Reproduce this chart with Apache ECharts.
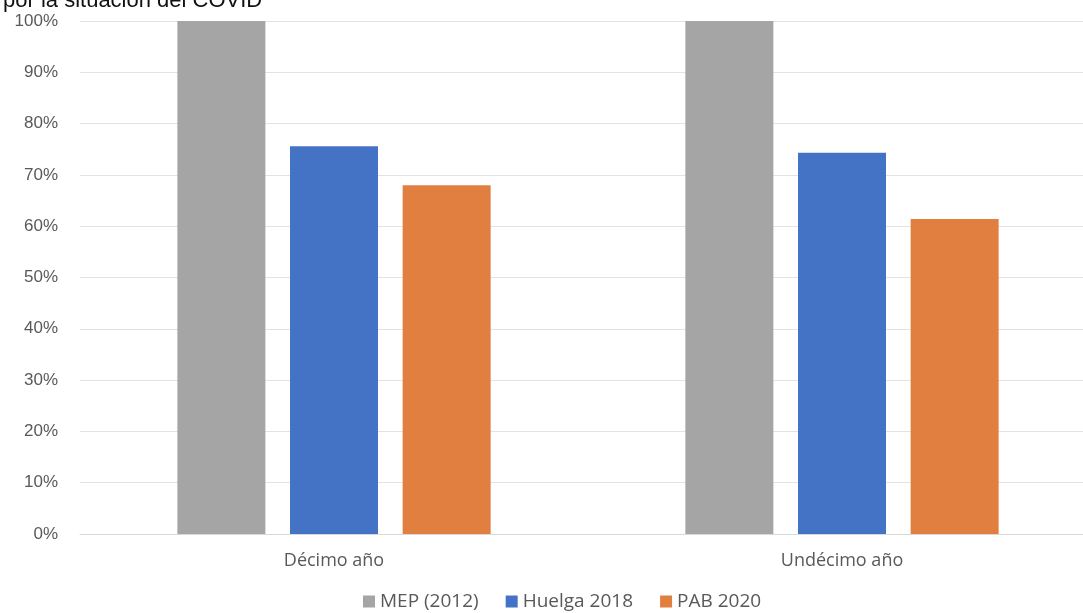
<!DOCTYPE html>
<html><head><meta charset="utf-8">
<script src="https://cdn.jsdelivr.net/npm/echarts@6/dist/echarts.min.js"></script>
<style>html,body{margin:0;padding:0;background:#fff;overflow:hidden}#c{width:1096px;height:613px}</style>
</head><body><div id="c"></div>
<script>
const categories = ['Décimo año', 'Undécimo año'];
const seriesNames = ['MEP (2012)', 'Huelga 2018', 'PAB 2020'];
const mep = [100, 100];
const huelga = [75.6, 74.3];
const pab = [68.0, 61.4];
const colors = ['#a5a5a5', '#4472c4', '#e07f3f'];

const chart = echarts.init(document.getElementById('c'));
chart.setOption({
  animation: false,
  title: { text: 'por la situación del COVID', left: -2, top: -15,
    textStyle: { fontFamily: 'Liberation Sans', fontSize: 22, fontWeight: 'normal', color: '#111' } },
  grid: { left: 80, right: 0, top: 21, bottom: 79, containLabel: false },
  legend: { bottom: -3, left: 358, itemWidth: 12, itemHeight: 12, itemGap: 27, icon: 'rect',
    textStyle: { fontFamily: 'Open Sans', fontSize: 19, color: '#595959' },
    data: seriesNames },
  xAxis: { type: 'category', data: categories,
    axisLine: { lineStyle: { color: '#d9d9d9' } }, axisTick: { show: false },
    axisLabel: { fontFamily: 'Open Sans', fontSize: 18, color: '#595959', margin: 18 } },
  yAxis: { type: 'value', min: 0, max: 100, interval: 10,
    axisLabel: { formatter: '{value}%', fontFamily: 'Liberation Sans', fontSize: 17, color: '#595959', margin: 22 },
    splitLine: { lineStyle: { color: '#e3e3e3' } } },
  series: [
    { name: seriesNames[0], type: 'bar', data: mep, barWidth: 88, barGap: '28%', itemStyle: { color: colors[0] } },
    { name: seriesNames[1], type: 'bar', data: huelga, barWidth: 88, barGap: '28%', itemStyle: { color: colors[1] } },
    { name: seriesNames[2], type: 'bar', data: pab, barWidth: 88, barGap: '28%', itemStyle: { color: colors[2] } }
  ]
});
</script></body></html>
